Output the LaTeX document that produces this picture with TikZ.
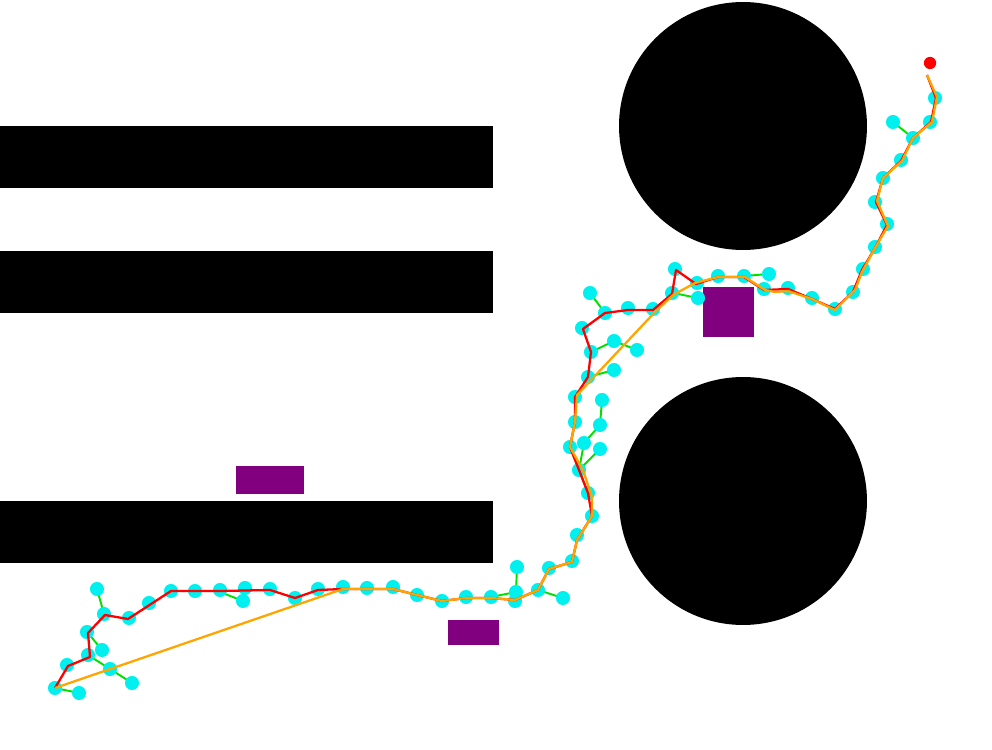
\documentclass[tikz,border=0pt]{standalone}
\usepackage{tikz}
\definecolor{pathorange}{RGB}{255,165,0}
\definecolor{obspurple}{RGB}{128,0,128}
\definecolor{treegreen}{RGB}{0,225,0}
\definecolor{treecyan}{RGB}{0,240,240}
\begin{document}
\begin{tikzpicture}[x=0.02cm, y=-0.02cm,
  edge/.style={treegreen, line width=1.1pt},
  vertex/.style={treecyan},
  found/.style={red, line width=1.3pt, line join=round},
  smooth path/.style={pathorange, line width=1.3pt, line join=round}]
\useasboundingbox (0,0) rectangle (992,750);
% obstacles
\fill[black] (0,126) rectangle (493,188);
\fill[black] (0,251) rectangle (493,313);
\fill[black] (0,501) rectangle (493,563);
\fill[black] (743,126) circle (2.48cm);
\fill[black] (743,501) circle (2.48cm);
\fill[obspurple] (236,466) rectangle (304,494);
\fill[obspurple] (448,620) rectangle (499,645);
\fill[obspurple] (703,287) rectangle (754,337);
% tree edges
\foreach \a/\b/\c/\d in {97/589/104/614, 88/633/102/650, 88/655/110/669, 110/669/132/683,
  55/688/79/693, 220/592/243/601, 517/567/516/592, 491/597/516/592, 538/590/563/598,
  588/377/614/370, 602/400/600/425, 600/425/584/443, 584/443/579/470, 600/449/579/470,
  570/447/579/470, 579/470/588/493, 590/293/605/313, 591/352/614/341, 614/341/637/350,
  673/293/698/298, 744/276/769/274, 893/122/913/138}
  \draw[edge] (\a,\b) -- (\c,\d);
% tree vertices
\foreach \a/\b in {97/589, 104/614, 129/618, 149/603, 171/591, 195/591, 220/590, 243/601,
  87/632, 102/650, 88/655, 67/665, 110/669, 132/683, 55/688, 79/693,
  245/588, 270/589, 295/598, 318/589, 343/587, 367/588, 393/587, 417/595,
  442/601, 466/597, 491/597, 517/567, 516/592, 515/601, 538/590, 563/598, 549/568, 572/561,
  577/535, 592/516, 588/493, 579/470, 600/449, 584/443, 570/447, 600/425, 575/422,
  602/400, 575/397, 588/377, 614/370,
  590/293, 605/313, 628/308, 653/309, 582/328, 614/341, 637/350, 591/352,
  675/269, 672/293, 697/283, 698/298, 718/276, 744/276, 769/274, 764/289, 788/288,
  812/298, 835/309, 853/292, 863/269, 875/202, 887/224, 875/247,
  935/98, 930/122, 893/122, 913/138, 901/160, 883/178}
  \fill[vertex] (\a,\b) circle (4pt);
% found path
\draw[found] (55,688) -- (68,666) -- (90,657) -- (88,633) -- (105,615) -- (128,619)
  -- (171,591) -- (195,591) -- (220,591) -- (270,590) -- (295,598) -- (318,590)
  -- (343,589) -- (367,589) -- (393,589) -- (417,595) -- (442,601) -- (466,598)
  -- (491,598) -- (515,600) -- (538,590) -- (549,569) -- (572,562) -- (577,540)
  -- (592,516) -- (588,493) -- (579,470) -- (570,447) -- (575,422) -- (575,397)
  -- (588,377) -- (591,352) -- (583,329) -- (605,313) -- (628,310) -- (653,310)
  -- (672,294) -- (676,270) -- (696,284) -- (718,277) -- (744,277) -- (764,290)
  -- (788,289) -- (812,299) -- (835,309) -- (853,292) -- (862,270) -- (875,248)
  -- (887,225) -- (876,202) -- (883,178) -- (901,161) -- (913,138) -- (931,122)
  -- (936,98) -- (927,75);
% smoothed path
\draw[smooth path] (55,688) -- (343,589) -- (367,589) -- (393,589) -- (417,595)
  -- (442,601) -- (466,598) -- (491,598) -- (515,600) -- (538,590) -- (549,569)
  -- (572,562) -- (577,540) -- (592,516) -- (592,497) -- (583,470) -- (570,447)
  -- (575,422) -- (577,395) -- (655,312) -- (673,295) -- (695,283) -- (718,277)
  -- (745,277) -- (765,290) -- (775,292) -- (788,291) -- (812,299) -- (835,310)
  -- (855,290) -- (862,272) -- (875,248) -- (888,226) -- (877,201) -- (883,178)
  -- (902,161) -- (913,138) -- (932,122) -- (937,97) -- (927,75);
% goal
\fill[red] (930,63) circle (3.5pt);
\end{tikzpicture}
\end{document}
